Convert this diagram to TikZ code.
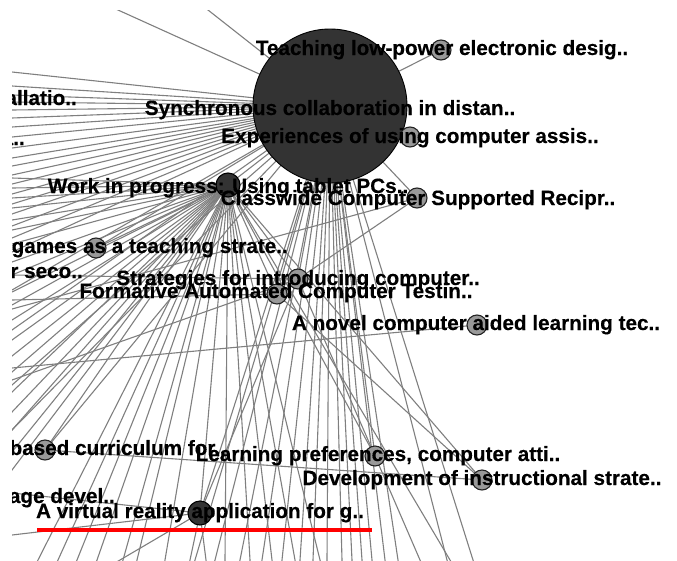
\documentclass[tikz,border=0pt]{standalone}
\usepackage{fontspec}
\setmainfont{Liberation Sans}
\newfontfamily\lblfont[BoldFeatures={FakeBold=0.35}]{Liberation Sans}
\usetikzlibrary{calc}
\definecolor{edgegray}{HTML}{7F7F7F}
\definecolor{hubfill}{HTML}{333333}
\definecolor{leaffill}{HTML}{999999}
\definecolor{rimcol}{HTML}{222222}
\tikzset{
  edge/.style={draw=edgegray, line width=1.1pt},
  hub/.style={circle, draw=black, line width=0.9pt, fill=hubfill, inner sep=0pt},
  leaf/.style={circle, draw=rimcol, line width=1.1pt, fill=leaffill, inner sep=0pt, minimum size=20pt},
  darkleaf/.style={circle, draw=black, line width=1.1pt, fill=hubfill, inner sep=0pt, minimum size=24pt},
  lbl/.style={inner sep=0pt, font=\lblfont\fontsize{20.7}{24}\selectfont\bfseries, text=black},
  underline/.style={draw=red, line width=4.5pt}
}
\begin{document}
\begin{tikzpicture}[x=1pt,y=-1pt]
\useasboundingbox (0,0) rectangle (677,560);
% node centres
\coordinate (S) at (330,106);
\coordinate (T) at (441,50);
\coordinate (E) at (410,137);
\coordinate (W) at (228,185);
\coordinate (C) at (417,198);
\coordinate (G) at (96,248);
\coordinate (St) at (298,279);
\coordinate (F) at (277,294);
\coordinate (N) at (477,325);
\coordinate (B) at (45,450);
\coordinate (L) at (375,456);
\coordinate (D) at (482,480);
\coordinate (V) at (200,513);
\begin{scope}
\clip (12,10) rectangle (677,560);
% ---- edges from the big hub
\draw[edge] (S) -- ($(S)!3!(118,10)$);
\draw[edge] (S) -- ($(S)!3!(208,10)$);
\foreach \yy in {72,86,95,102,110,118,127,137,148,158,166,175,184,194,204,214,226,238,252}
  \draw[edge] (S) -- ($(S)!3!(12,\yy)$);
\foreach \yy in {290,330,385,430}
  \draw[edge] (S) -- ($(S)!2!(12,\yy)$);
\foreach \xx in {195,215,240,262,282,300,313,327,342,352,362,372,385,398,447,473}
  \draw[edge] (S) -- ($(S)!2!(\xx,560)$);
\draw[edge] (S) -- (T);
\draw[edge] (S) -- (E);
\draw[edge] (S) -- (C);
\draw[edge] (S) -- (W);
\draw[edge] (S) -- (V);
\draw[edge] (S) -- (St);
\draw[edge] (S) -- (F);
\draw[edge] (S) -- (L);
\draw[edge] (S) -- (G);
% ---- edges from the tablet-PC hub
\foreach \yy in {178,188,198,208,220,230,244,262,275,292,305,320,340,356,372,392,412,430,452,470}
  \draw[edge] (W) -- ($(W)!3!(12,\yy)$);
\foreach \xx in {38,58,77,97,123,137,165,225,250,272,295,320}
  \draw[edge] (W) -- ($(W)!2!(\xx,560)$);
\draw[edge] (W) -- (V);
\draw[edge] (W) -- (D);
\draw[edge] (W) -- (L);
\draw[edge] (W) -- (St);
\draw[edge] (W) -- (F);
\draw[edge] (W) -- (G);
\draw[edge] (W) -- (B);
\draw[edge] (W) -- ($(W)!2!(450,560)$);
% ---- other edges
\draw[edge] (C) -- (St);
\draw[edge] (C) -- ($(C)!3!(12,309)$);
\draw[edge] (N) -- ($(N)!3!(12,368)$);
\draw[edge] (B) -- (D);
\draw[edge] (B) -- (S);
\draw[edge] (V) -- ($(V)!3!(12,493)$);
\draw[edge] (V) -- ($(V)!3!(12,535)$);
\draw[edge] (V) -- ($(V)!3!(120,560)$);
\draw[edge] (V) -- ($(V)!3!(190,560)$);
\draw[edge] (V) -- ($(V)!3!(206,560)$);
\draw[edge] (V) -- (St);
\draw[edge] (L) -- (St);
\draw[edge] (L) -- ($(L)!3!(420,560)$);
\draw[edge] (D) -- (F);
\draw[edge] (St) -- ($(St)!3!(12,275)$);
\draw[edge] (F) -- ($(F)!3!(12,300)$);
\draw[edge] (St) -- ($(St)!3!(12,380)$);
% ---- nodes
\node[hub, minimum size=154pt] (Sn) at (S) {};
\node[leaf] (Tn) at (T) {};
\node[leaf] (En) at (E) {};
\node[darkleaf] (Wn) at (W) {};
\node[leaf] (Cn) at (C) {};
\node[leaf] (Gn) at (G) {};
\node[leaf] (Stn) at (St) {};
\node[leaf] (Fn) at (F) {};
\node[leaf] (Nn) at (N) {};
\node[leaf] (Bn) at (B) {};
\node[leaf] (Ln) at (L) {};
\node[leaf] (Dn) at (D) {};
\node[darkleaf] (Vn) at (V) {};
% ---- labels
\node[lbl, anchor=base] (tT) at (442,55) {Teaching low-power electronic desig..};
\node[lbl, anchor=base] (tS) at (330,115) {Synchronous collaboration in distan..};
\node[lbl, anchor=base] (tE) at (410,143) {Experiences of using computer assis..};
\node[lbl, anchor=base] (tW) at (228,193) {Work in progress: Using tablet PCs..};
\node[lbl, anchor=base] (tC) at (418,205) {Classwide Computer Supported Recipr..};
\node[lbl, anchor=base east] (tG) at (288,253) {games as a teaching strate..};
\node[lbl, anchor=base east] (tR) at (83,278) {r seco..};
\node[lbl, anchor=base east] (tI) at (77,105) {allatio..};
\node[lbl, anchor=base east] (tA) at (25,145) {a..};
\node[lbl, anchor=base] (tSt) at (298,285) {Strategies for introducing computer..};
\node[lbl, anchor=base] (tF) at (276,298) {Formative Automated Computer Testin..};
\node[lbl, anchor=base] (tN) at (476,330) {A novel computer aided learning tec..};
\node[lbl, anchor=base east] (tB) at (226,455) {-based curriculum for..};
\node[lbl, anchor=base] (tL) at (378,461) {Learning preferences, computer atti..};
\node[lbl, anchor=base] (tD) at (482,485) {Development of instructional strate..};
\node[lbl, anchor=base east] (tAg) at (115,503) {age devel..};
\node[lbl, anchor=base] (tV) at (200,518) {A virtual reality application for g..};
\end{scope}
\coordinate (u1) at (37,530);
\coordinate (u2) at (372,530);
\draw[underline] (u1) -- (u2);
\end{tikzpicture}
\end{document}
